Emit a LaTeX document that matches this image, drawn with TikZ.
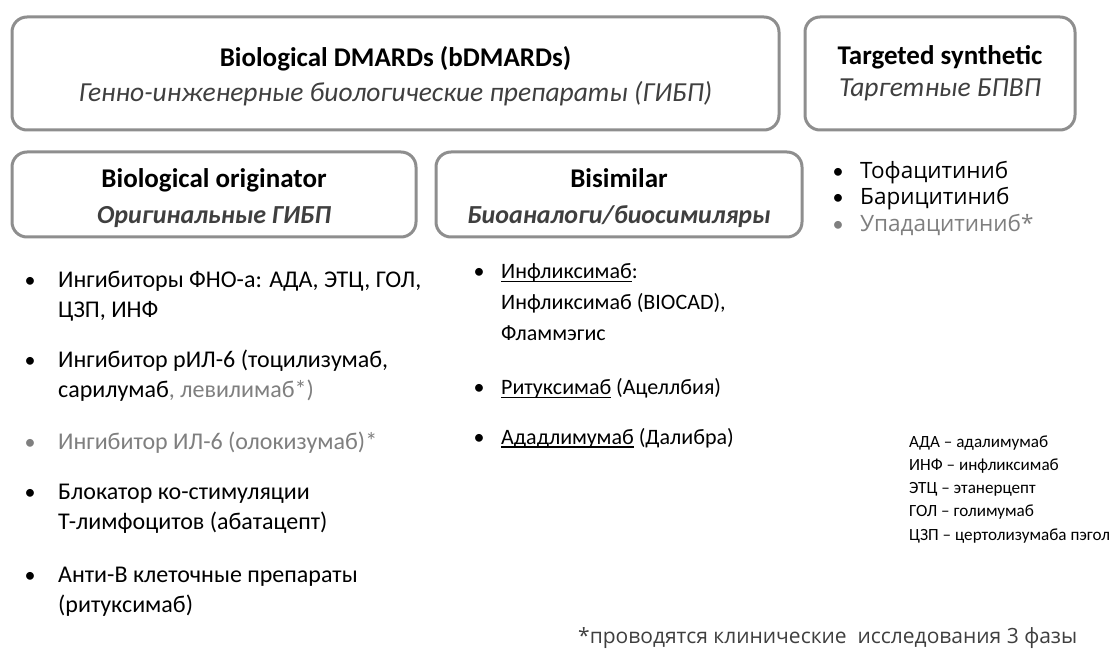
\documentclass[tikz,border=0pt]{standalone}
\usepackage{fontspec}
\setmainfont{Carlito}
\newfontfamily\osfont{Open Sans}
\usepackage{xcolor}
\usepackage{tikz}
\definecolor{dmLine}{HTML}{8E8E8E}
\definecolor{dmSub}{HTML}{3F3F3F}
\definecolor{dmGray}{HTML}{7F7F7F}
\newcommand\dmUl[1]{\setbox0\hbox{#1}\rlap{\rule[-3.5pt]{\wd0}{1.5pt}}\box0{}}
\tikzset{
 dmBox/.style={draw=dmLine,line width=3pt,rounded corners=15pt,fill=white},
 dmHead/.style={anchor=base,inner sep=0pt,font=\fontsize{27}{30}\selectfont\bfseries},
 dmSubT/.style={anchor=base,inner sep=0pt,text=dmSub,font=\fontsize{27.5}{30}\selectfont\itshape},
 dmSubB/.style={anchor=base,inner sep=0pt,text=dmSub,font=\fontsize{26}{30}\selectfont\bfseries\itshape},
 dmItem/.style={anchor=base west,inner sep=0pt,align=left,font=\fontsize{24}{30}\selectfont},
 dmMid/.style={anchor=base west,inner sep=0pt,align=left,font=\fontsize{22}{31}\selectfont},
 dmDot/.style={anchor=base,inner sep=0pt,font=\fontsize{22}{29}\selectfont},
 dmTs/.style={anchor=base west,inner sep=0pt,font=\osfont\fontsize{22.5}{26}\selectfont},
}
\begin{document}
\begin{tikzpicture}[x=1pt,y=-1pt]
\fill[white](0,0)rectangle(1109,652);\useasboundingbox(0,0)rectangle(1109,652);
% frames
\draw[dmBox](12,17)rectangle(779,130);\draw[dmBox](805,17)rectangle(1075,130);
\draw[dmBox](12,152)rectangle(416,237);\draw[dmBox](436,152)rectangle(802,237);
% headings
\node[dmHead](bioT) at (395.5,67){Biological DMARDs (bDMARDs)};
\node[dmSubT](bioS) at (395.5,102){Генно-инженерные биологические препараты (ГИБП)};
\node[dmHead](tsT) at (940,65){Targeted synthetic};
\node[dmSubT](tsS) at (940,97){Таргетные БПВП};
\node[dmHead](orgT) at (214,188){Biological originator};
\node[dmSubB](orgS) at (214,224){Оригинальные ГИБП};
\node[dmHead](bsT) at (619,188){Bisimilar};
\node[dmSubB](bsS) at (619,224){Биоаналоги/биосимиляры};
% targeted synthetic list (text nodes sit on their last line)
\node[dmDot](dotR1) at (838,179){•};\node[dmTs](tsA) at (860,179){Тофацитиниб};
\node[dmDot](dotR2) at (838,205){•};\node[dmTs](tsB) at (860,205){Барицитиниб};
\node[dmDot,text=dmGray](dotR3) at (838,232){•};\node[dmTs,text=dmGray](tsC) at (860,232){Упадацитиниб*};
% originator list
\node[dmDot](dotL1) at (30,288){•};\node[dmItem](orgA) at (58,318){Ингибиторы ФНО-а: АДА, ЭТЦ, ГОЛ,\\ЦЗП, ИНФ};
\node[dmDot](dotL2) at (30,368){•};\node[dmItem](orgB) at (58,398){Ингибитор рИЛ-6 (тоцилизумаб,\\сарилумаб{\color{dmGray}, левилимаб*)}};
\node[dmDot,text=dmGray](dotL3) at (30,449){•};\node[dmItem,text=dmGray](orgC) at (58,449){Ингибитор ИЛ-6 (олокизумаб)*};
\node[dmDot](dotL4) at (30,499){•};\node[dmItem](orgD) at (58,529){Блокатор ко-стимуляции\\Т-лимфоцитов (абатацепт)};
\node[dmDot](dotL5) at (30,582){•};\node[dmItem](orgE) at (58,612){Анти-В клеточные препараты\\(ритуксимаб)};
% biosimilar list
\node[dmDot](dotM1) at (479,279){•};\node[dmMid](bsA) at (501,341){\dmUl{Инфликсимаб}:\\Инфликсимаб (BIOCAD),\\Фламмэгис};
\node[dmDot](dotM2) at (479,395){•};\node[dmMid](bsB) at (501,395){\dmUl{Ритуксимаб} (Ацеллбия)};
\node[dmDot](dotM3) at (479,444){•};\node[dmMid](bsC) at (501,444){\dmUl{Ададлимумаб} (Далибра)};
% abbreviations and note
\node[dmItem,font=\fontsize{17.1}{23.2}\selectfont](abbr) at (909,540){АДА – адалимумаб\\ИНФ – инфликсимаб\\ЭТЦ – этанерцепт\\ГОЛ – голимумаб\\ЦЗП – цертолизумаба пэгол};
\node[dmItem,text=dmSub,font=\osfont\fontsize{21}{24}\selectfont](note) at (578,643){*проводятся клинические\ \ исследования 3 фазы};
\end{tikzpicture}
\end{document}
